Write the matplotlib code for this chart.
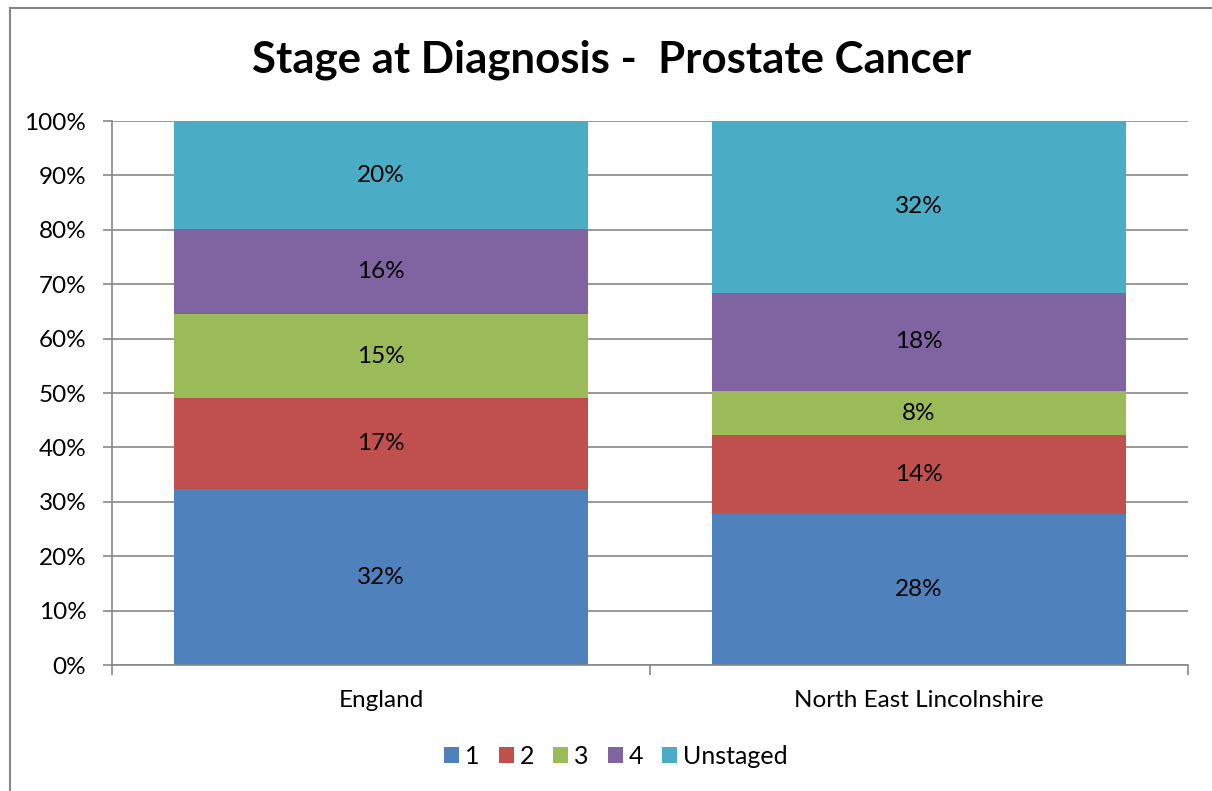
import matplotlib.pyplot as plt
from matplotlib.lines import Line2D

# Data (percent of cases)
areas = ['England', 'North East Lincolnshire']
stages = ['1', '2', '3', '4', 'Unstaged']
stage_1 = [32.3, 27.8]
stage_2 = [16.8, 14.4]
stage_3 = [15.4, 8.2]
stage_4 = [15.6, 18.0]
unstaged = [19.9, 31.6]
colors = ['#4F81BD', '#C0504D', '#9BBB59', '#8064A2', '#4BACC6']

plt.rcParams['font.family'] = ['Lato', 'DejaVu Sans']

W, H = 1212, 791
fig = plt.figure(figsize=(W / 100, H / 100), dpi=100)
ax = fig.add_axes([112 / W, 1 - 665 / H, (1188 - 112) / W, (665 - 121) / H])

# chart border, only left and top are inside the picture
fig.lines.append(Line2D([10 / W, 10 / W], [0, 1 - 8 / H], transform=fig.transFigure,
                        color='#868686', linewidth=1.5))
fig.lines.append(Line2D([10 / W, 1], [1 - 8 / H, 1 - 8 / H], transform=fig.transFigure,
                        color='#868686', linewidth=1.5))

x = range(len(areas))
bottom = [0, 0]
for name, vals, c in zip(stages, [stage_1, stage_2, stage_3, stage_4, unstaged], colors):
    bars = ax.bar(x, vals, width=0.768, bottom=bottom, color=c, label=name, zorder=2)
    for b, v, b0 in zip(bars, vals, bottom):
        ax.text(b.get_x() + b.get_width() / 2, b0 + v / 2, '%d%%' % round(v),
                ha='center', va='center', fontsize=17.5, color='black', zorder=3)
    bottom = [b0 + v for b0, v in zip(bottom, vals)]

ax.set_xlim(-0.5, 1.5)
ax.set_ylim(0, 100)
ax.set_yticks(range(0, 101, 10))
ax.set_yticklabels(['%d%%' % t for t in range(0, 101, 10)], fontsize=17.5)
ax.yaxis.grid(True, color='#878787', linewidth=1.2, zorder=0)
ax.set_axisbelow(True)

# category labels in between ticks
ax.set_xticks([-0.5, 0.5, 1.5])
ax.set_xticklabels([])
ax.set_xticks([0, 1], minor=True)
ax.set_xticklabels(areas, minor=True, fontsize=17.5)
ax.tick_params(axis='x', which='minor', length=0, pad=18)
ax.tick_params(axis='x', which='major', length=7, color='#878787', width=1.2)
ax.tick_params(axis='y', length=6.5, color='#878787', width=1.2, pad=12)

for s in ['top', 'right']:
    ax.spines[s].set_visible(False)
for s in ['left', 'bottom']:
    ax.spines[s].set_color('#878787')
    ax.spines[s].set_linewidth(1.2)

fig.text(612 / W, 1 - 60 / H, 'Stage at Diagnosis -  Prostate Cancer',
         ha='center', va='center', fontsize=31.5, fontweight='bold')

fig.legend(loc='center', bbox_to_anchor=(616 / W, 1 - 756 / H), ncol=5,
           frameon=False, fontsize=18, handlelength=0.6, handleheight=0.6,
           handletextpad=0.25, columnspacing=0.75)

fig.savefig('out.png', dpi=100)
